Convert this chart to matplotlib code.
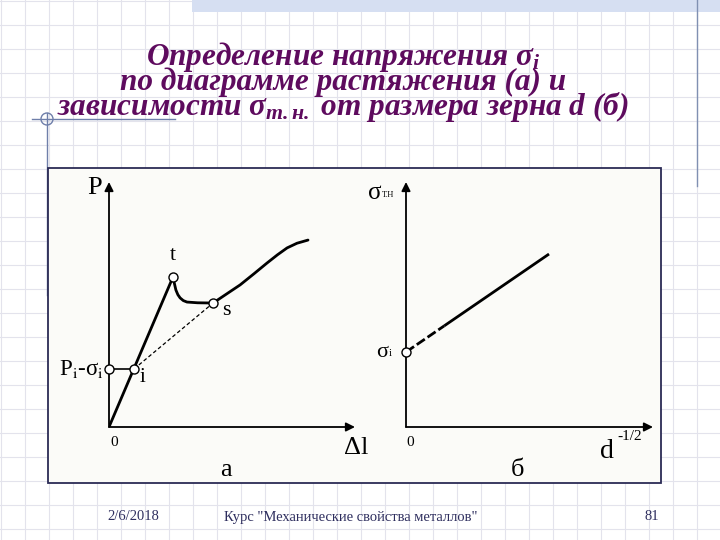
import matplotlib
matplotlib.use("Agg")
import matplotlib.pyplot as plt
from matplotlib.patches import Rectangle, Circle

plt.rcParams['mathtext.fontset'] = 'custom'
plt.rcParams['mathtext.rm'] = 'Liberation Serif:italic:bold'
plt.rcParams['mathtext.it'] = 'Liberation Serif:italic:bold'
plt.rcParams['mathtext.bf'] = 'Liberation Serif:italic:bold'

# ---------------- data ----------------
# panel a: tensile diagram P(Δl)
rise_dl = [0.0, 2.60]
rise_P = [0.0, 6.12]
yield_dl = [2.60, 2.66, 2.72, 2.80, 2.89, 3.02, 3.17, 3.60, 4.23]
yield_P = [6.12, 5.85, 5.59, 5.40, 5.27, 5.16, 5.10, 5.07, 5.06]
harden_dl = [4.23, 4.72, 5.33, 5.90, 6.42, 6.85, 7.24, 7.64, 8.09]
harden_P = [5.06, 5.39, 5.80, 6.26, 6.69, 7.03, 7.31, 7.50, 7.63]
point_t = (2.60, 6.12)
point_s = (4.23, 5.06)
point_i = (1.02, 2.37)
point_Pi = (0.0, 2.37)
dash_dl = [1.02, 4.23]
dash_P = [2.37, 5.06]

# panel б: σт.н vs d^-1/2
hp_dash_d = [0.0, 1.55]
hp_dash_sigma = [3.06, 4.13]
hp_solid_d = [1.55, 5.79]
hp_solid_sigma = [4.13, 7.06]
point_sigma_i = (0.0, 3.06)

title_lines = [
    r"Определение напряжения $\sigma_i$",
    "по диаграмме растяжения (а) и",
    r"зависимости $\sigma_{т.н.}$ от размера зерна d (б)",
]
footer_date = "2/6/2018"
footer_course = 'Курс "Механические свойства металлов"'
footer_page = "81"

W, H = 720, 540
fig = plt.figure(figsize=(7.2, 5.4), dpi=100)
bg = fig.add_axes([0, 0, 1, 1])
bg.set_xlim(0, W)
bg.set_ylim(H, 0)
bg.axis('off')

# slide background grid
for gx in range(1, W, 24):
    bg.plot([gx, gx], [0, H], color='#e3e3ec', lw=0.8, zorder=0)
for gy in range(1, H, 24):
    bg.plot([0, W], [gy, gy], color='#e3e3ec', lw=0.8, zorder=0)

# template decorations
bg.add_patch(Rectangle((192, 0), 528, 12, facecolor='#d6dff2', edgecolor='none', zorder=1))
bg.plot([697, 697], [0, 186], color='#8090b2', lw=1.0, zorder=1)
bg.plot([47, 47], [113, 295], color='#6f7faa', lw=1.0, zorder=1)
bg.plot([32, 175], [119, 119], color='#6f7faa', lw=1.0, zorder=1)
bg.add_patch(Circle((47, 119), 6, facecolor='none', edgecolor='#6f7faa', lw=1.0, zorder=1))

# picture frame
bg.add_patch(Rectangle((48, 168), 613, 315, facecolor='#fbfbf8', edgecolor='#2b2b55', lw=1.3, zorder=2))

# title (one multi-line text; baseline of the last line)
title_color = '#5e0b5e'
bg.text(343, 115, "\n".join(title_lines), ha='center', va='baseline', multialignment='center',
        fontsize=22.5, color=title_color, linespacing=0.72,
        family='Liberation Serif', style='italic', weight='bold', math_fontfamily='custom', zorder=5)

# footer
fcol = '#2e2e5e'
bg.text(133, 517, footer_date, ha='center', va='center', fontsize=10.5, family='Liberation Serif', color=fcol)
bg.text(351, 517, footer_course, ha='center', va='center', fontsize=10.5, family='Liberation Serif', color=fcol)
bg.text(652, 517, footer_page, ha='center', va='center', fontsize=10.5, family='Liberation Serif', color=fcol)


def panel(px0, px1, py_top, py_bot):
    ax = fig.add_axes([px0 / W, (H - py_bot) / H, (px1 - px0) / W, (py_bot - py_top) / H])
    ax.set_xlim(0, 10)
    ax.set_ylim(0, 10)
    ax.axis('off')
    ax.patch.set_visible(False)
    arrow = dict(arrowstyle='-|>', lw=1.3, color='black', mutation_scale=13, shrinkA=0, shrinkB=0)
    ax.annotate('', xy=(10, 0), xytext=(0, 0), arrowprops=arrow, annotation_clip=False)
    ax.annotate('', xy=(0, 10), xytext=(0, 0), arrowprops=arrow, annotation_clip=False)
    return ax

serif = dict(family='Liberation Serif', color='black', clip_on=False)
marker = dict(marker='o', ms=6.5, mfc='white', mec='black', mew=1.0, ls='none', zorder=6, clip_on=False)

# ---------- panel a ----------
ax1 = panel(109, 355, 182, 427)
ax1.plot(rise_dl, rise_P, color='black', lw=2.0, solid_capstyle='round')
ax1.plot(yield_dl, yield_P, color='black', lw=2.0, solid_joinstyle='round')
ax1.plot(harden_dl, harden_P, color='black', lw=2.0, solid_capstyle='round')
ax1.plot(dash_dl, dash_P, color='black', lw=0.9, dashes=(3, 2))
ax1.plot([point_Pi[0], point_i[0]], [point_Pi[1], point_i[1]], color='black', lw=1.2)
for p in (point_t, point_s, point_i, point_Pi):
    ax1.plot([p[0]], [p[1]], **marker)
ax1.text(-0.57, 9.76, "P", fontsize=19, ha='center', va='center', **serif)
ax1.text(2.60, 6.98, "t", fontsize=16, ha='center', va='center', **serif)
ax1.text(4.78, 4.76, "s", fontsize=16, ha='center', va='center', **serif)
ax1.text(1.36, 2.02, "i", fontsize=15, ha='center', va='center', **serif)
ax1.text(-0.22, 2.37, r"P$_{\rm i}$-σ$_{\rm i}$", fontsize=16.5, ha='right', va='center',
         math_fontfamily='stix', **serif)
ax1.text(0.2, -0.65, "0", fontsize=11, ha='center', va='center', **serif)
ax1.text(10.04, -0.86, "Δl", fontsize=19, ha='center', va='center', **serif)
ax1.text(4.76, -1.76, "а", fontsize=19, ha='center', va='center', **serif)

# ---------- panel б ----------
ax2 = panel(406, 653, 182, 427)
ax2.plot(hp_dash_d, hp_dash_sigma, color='black', lw=2.0, dashes=(3.5, 1.2))
ax2.plot(hp_solid_d, hp_solid_sigma, color='black', lw=2.0, solid_capstyle='butt')
ax2.plot([point_sigma_i[0]], [point_sigma_i[1]], **marker)
ax2.text(-1.26, 9.55, "σ", fontsize=18, ha='center', va='center', **serif)
ax2.text(-0.98, 9.45, "Т.Н", fontsize=6, ha='left', va='center', **serif)
ax2.text(-0.95, 3.06, "σ", fontsize=16, ha='center', va='center', **serif)
ax2.text(-0.62, 2.98, "i", fontsize=8, ha='center', va='center', **serif)
ax2.text(0.16, -0.65, "0", fontsize=11, ha='center', va='center', **serif)
ax2.text(8.14, -1.02, "d", fontsize=20, ha='center', va='center', **serif)
ax2.text(9.05, -0.38, "-1/2", fontsize=11, ha='center', va='center', **serif)
ax2.text(4.53, -1.76, "б", fontsize=19, ha='center', va='center', **serif)

fig.savefig("out.png", dpi=100)
